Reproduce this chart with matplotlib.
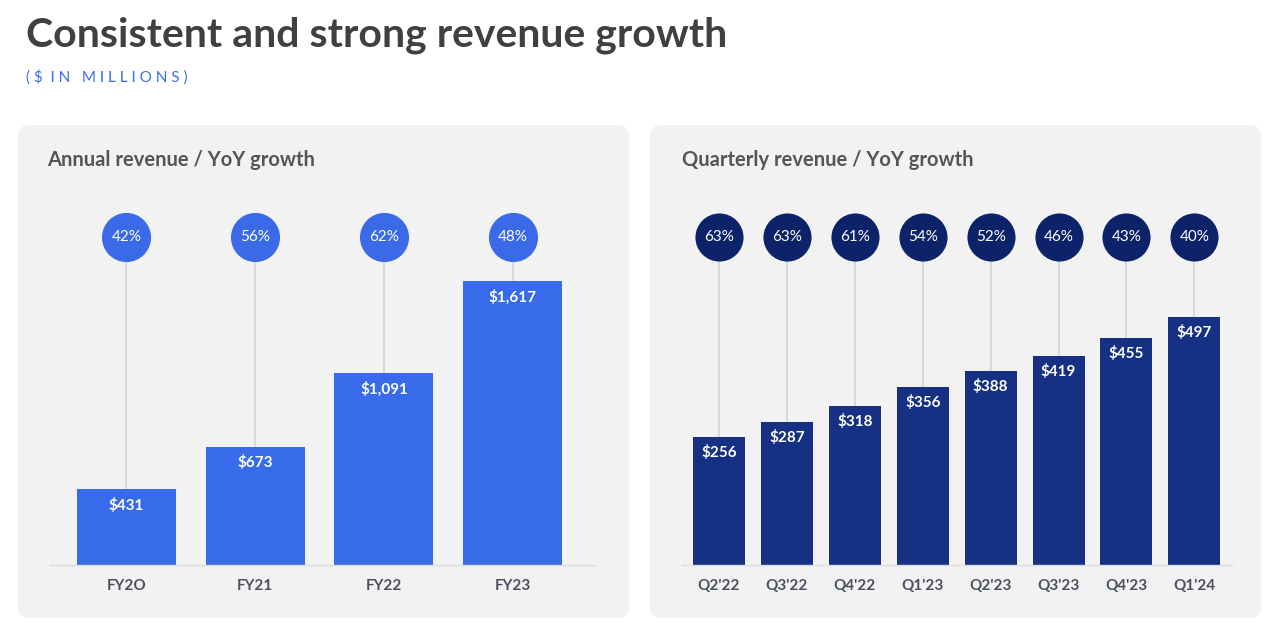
import matplotlib.pyplot as plt
from matplotlib.patches import FancyBboxPatch
from matplotlib.transforms import IdentityTransform

plt.rcParams['font.family'] = ['Lato', 'DejaVu Sans']

# data
years = ["FY2O", "FY21", "FY22", "FY23"]
annual_rev = [431, 673, 1091, 1617]
annual_growth = [42, 56, 62, 48]

quarters = ["Q2'22", "Q3'22", "Q4'22", "Q1'23", "Q2'23", "Q3'23", "Q4'23", "Q1'24"]
quarter_rev = [256, 287, 318, 356, 388, 419, 455, 497]
quarter_growth = [63, 63, 61, 54, 52, 46, 43, 40]

W, H = 1280, 630
fig = plt.figure(figsize=(W / 100, H / 100), dpi=100)
fig.patch.set_facecolor("white")

# titles
fig.text(26 / W, 1 - 35 / H, "Consistent and strong revenue growth", fontsize=29.5,
         fontweight="bold", color="#404040", va="center", ha="left")
fig.text(26 / W, 1 - 77 / H, "( $  I N   M I L L I O N S )", fontsize=11,
         color="#3a6ee8", va="center", ha="left")

# panels (pixel coords, origin bottom-left)
for x0 in (18, 650):
    p = FancyBboxPatch((x0, H - 618), 611, 493, boxstyle="round,pad=0,rounding_size=12",
                       transform=IdentityTransform(), facecolor="#f2f2f2",
                       edgecolor="none", zorder=-10)
    fig.add_artist(p)

fig.text(47 / W, 1 - 160 / H, "Annual revenue / YoY growth", fontsize=14.5,
         fontweight="bold", color="#555555", va="center", ha="left")
fig.text(682 / W, 1 - 160 / H, "Quarterly revenue / YoY growth", fontsize=14.5,
         fontweight="bold", color="#555555", va="center", ha="left")


def panel(rect, labels, rev, growth, xlim, ymax, bar_w, bar_c, circ_c, circ_s):
    ax = fig.add_axes(rect)
    ax.patch.set_visible(False)
    xs = list(range(len(labels)))
    circ_y = 0.8986 * ymax
    ax.vlines(xs, 0, circ_y, color="#d2d2d2", lw=1.1, zorder=1)
    ax.bar(xs, rev, width=bar_w, color=bar_c, zorder=2)
    ax.scatter(xs, [circ_y] * len(xs), s=circ_s, color=circ_c, zorder=3, linewidths=0)
    for x, r, g in zip(xs, rev, growth):
        ax.text(x, circ_y, f"{g}%", color="white", fontsize=11, ha="center",
                va="center", zorder=4)
        ax.annotate(f"${r:,}", (x, r), xytext=(0, -11.5), textcoords="offset points",
                    color="white", fontsize=11, fontweight="bold", ha="center",
                    va="center", zorder=4)
    ax.set_xlim(*xlim)
    ax.set_ylim(0, ymax)
    ax.set_xticks(xs)
    ax.set_xticklabels(labels, fontsize=11, fontweight="bold", color="#4b5060")
    ax.tick_params(axis="x", length=0, pad=10)
    ax.set_yticks([])
    for s in ("left", "right", "top"):
        ax.spines[s].set_visible(False)
    ax.spines["bottom"].set_color("#dcdcdc")
    ax.spines["bottom"].set_linewidth(1)
    return ax


panel([50 / W, 65 / H, 545 / W, 365 / H], years, annual_rev, annual_growth,
      (-0.594, 3.64), 365 / 0.1756, 0.77, "#386be9", "#3a6ae8", 1250)
panel([682 / W, 65 / H, 550 / W, 365 / H], quarters, quarter_rev, quarter_growth,
      (-0.545, 7.555), 365 / 0.5, 0.766, "#163184", "#0d2369", 1200)

fig.savefig("out.png", dpi=100)
